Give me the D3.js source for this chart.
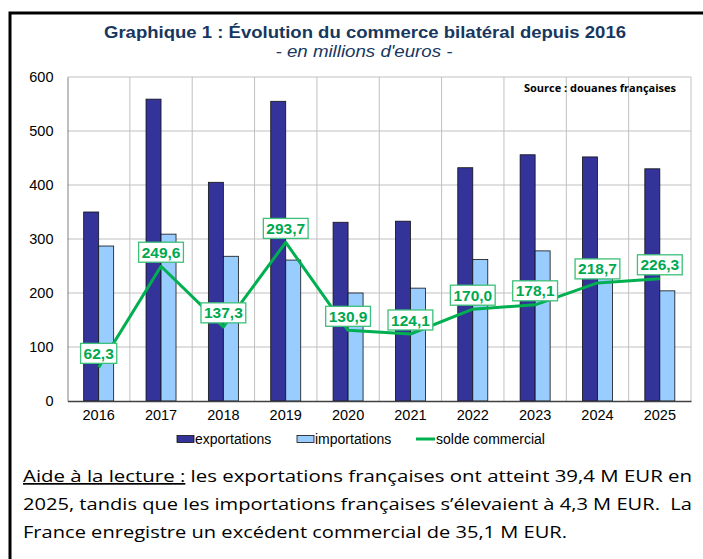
<!DOCTYPE html>
<html>
<head>
<meta charset="utf-8">
<script src="https://cdn.jsdelivr.net/npm/d3@7"></script>
<style>
  body { margin: 0; background: #fff; }
  svg { display: block; font-family: "Liberation Sans", Arial, sans-serif; }
</style>
</head>
<body>
<svg id="chart"></svg>
<script>
'use strict';

var years = ["2016", "2017", "2018", "2019", "2020", "2021", "2022", "2023", "2024", "2025"];
var exportations = [350, 559, 405, 555, 331, 333, 432, 456, 452, 430];
var importations = [287, 309, 268, 261, 200, 209, 262, 278, 233, 204];
var solde = [62.3, 249.6, 137.3, 293.7, 130.9, 124.1, 170.0, 178.1, 218.7, 226.3];
var yTicks = [0, 100, 200, 300, 400, 500, 600];

var width = 703,
    height = 559;

var margin = { left: 67.5, right: 691, top: 77, bottom: 401 };

var svg = d3.select("#chart")
    .attr("width", width)
    .attr("height", height);

// cadre noir
svg.append("rect")
    .attr("x", 10).attr("y", 13)
    .attr("width", 760).attr("height", 620)
    .attr("fill", "none")
    .attr("stroke", "#000")
    .attr("stroke-width", 3);

var x = d3.scaleBand()
    .domain(years)
    .range([margin.left, margin.right])
    .padding(0);

var y = d3.scaleLinear()
    .domain([0, 600])
    .range([margin.bottom, margin.top]);

var bw = 15;

// titre
svg.append("text")
    .attr("x", 365).attr("y", 38)
    .attr("text-anchor", "middle")
    .attr("font-size", "17px")
    .attr("font-weight", "bold")
    .attr("fill", "#17375e")
    .attr("textLength", 522)
    .attr("lengthAdjust", "spacingAndGlyphs")
    .text("Graphique 1 : \u00c9volution du commerce bilat\u00e9ral depuis 2016");

svg.append("text")
    .attr("x", 364).attr("y", 57)
    .attr("text-anchor", "middle")
    .attr("font-size", "17px")
    .attr("font-style", "italic")
    .attr("fill", "#17375e")
    .attr("textLength", 177)
    .attr("lengthAdjust", "spacingAndGlyphs")
    .text("- en millions d'euros -");

// grille
var grid = svg.append("g");
grid.selectAll(".hgrid")
    .data(yTicks.slice(1))
  .enter().append("line")
    .attr("x1", margin.left).attr("x2", margin.right)
    .attr("y1", function(d) { return y(d); })
    .attr("y2", function(d) { return y(d); })
    .attr("stroke", "#c0c0c0");

grid.selectAll(".vgrid")
    .data(years.slice(1).concat(["end"]))
  .enter().append("line")
    .attr("x1", function(d) { return d === "end" ? margin.right : x(d); })
    .attr("x2", function(d) { return d === "end" ? margin.right : x(d); })
    .attr("y1", margin.top).attr("y2", margin.bottom)
    .attr("stroke", "#c0c0c0");

// barres
var bars = svg.append("g");
bars.selectAll(".exp")
    .data(exportations)
  .enter().append("rect")
    .attr("x", function(d, i) { return x(years[i]) + x.bandwidth() / 2 - bw; })
    .attr("y", function(d) { return y(d); })
    .attr("width", bw)
    .attr("height", function(d) { return y(0) - y(d); })
    .attr("fill", "#333399")
    .attr("stroke", "#111")
    .attr("stroke-width", 0.8);

bars.selectAll(".imp")
    .data(importations)
  .enter().append("rect")
    .attr("x", function(d, i) { return x(years[i]) + x.bandwidth() / 2; })
    .attr("y", function(d) { return y(d); })
    .attr("width", bw)
    .attr("height", function(d) { return y(0) - y(d); })
    .attr("fill", "#99ccff")
    .attr("stroke", "#111")
    .attr("stroke-width", 0.8);

// axes
var yAxis = svg.append("g")
    .attr("transform", "translate(" + margin.left + ",0)")
    .call(d3.axisLeft(y).tickValues(yTicks).tickSize(0).tickPadding(14));
yAxis.attr("font-family", null);
yAxis.select(".domain").attr("stroke", "#808080");
yAxis.selectAll("text").attr("font-size", "14.5px").attr("fill", "#000");

var xAxis = svg.append("g")
    .attr("transform", "translate(0," + margin.bottom + ")")
    .call(d3.axisBottom(x).tickSize(0).tickPadding(9));
xAxis.attr("font-family", null);
xAxis.select(".domain").attr("stroke", "#404040").attr("stroke-width", 1.5);
xAxis.selectAll("text").attr("font-size", "14.5px").attr("fill", "#000");

// solde commercial
var line = d3.line()
    .x(function(d, i) { return x(years[i]) + x.bandwidth() / 2; })
    .y(function(d) { return y(d); });

svg.append("path")
    .datum(solde)
    .attr("d", line)
    .attr("fill", "none")
    .attr("stroke", "#00b050")
    .attr("stroke-width", 3)
    .attr("stroke-linejoin", "round");

var fmt = function(v) { return d3.format(".1f")(v).replace(".", ","); };

var labels = svg.selectAll(".lbl")
    .data(solde)
  .enter().append("g")
    .attr("transform", function(d, i) {
      return "translate(" + (x(years[i]) + x.bandwidth() / 2) + "," + (y(d) - 14) + ")";
    });

labels.append("rect")
    .attr("fill", "#fff")
    .attr("stroke", "#3cc07a")
    .attr("stroke-width", 1.3);

labels.append("text")
    .attr("text-anchor", "middle")
    .attr("dy", "0.36em")
    .attr("font-size", "15.5px")
    .attr("font-weight", "bold")
    .attr("fill", "#00a850")
    .text(function(d) { return fmt(d); });

labels.each(function() {
  var g = d3.select(this);
  var w = g.select("text").node().getComputedTextLength();
  g.select("rect")
    .attr("x", -w / 2 - 3).attr("y", -10)
    .attr("width", w + 6).attr("height", 20);
});

// source
svg.append("text")
    .attr("x", 676).attr("y", 92)
    .attr("text-anchor", "end")
    .attr("font-size", "11px")
    .attr("font-weight", "bold")
    .attr("font-family", "Open Sans, sans-serif")
    .attr("textLength", 152)
    .attr("lengthAdjust", "spacingAndGlyphs")
    .text("Source : douanes fran\u00e7aises");

// legende
var legend = svg.append("g").attr("font-size", "14px");
legend.append("rect")
    .attr("x", 177).attr("y", 435.5).attr("width", 17).attr("height", 7)
    .attr("fill", "#333399").attr("stroke", "#111").attr("stroke-width", 0.8);
legend.append("text").attr("x", 195).attr("y", 444).text("exportations");
legend.append("rect")
    .attr("x", 297).attr("y", 435.5).attr("width", 17).attr("height", 7)
    .attr("fill", "#99ccff").attr("stroke", "#111").attr("stroke-width", 0.8);
legend.append("text").attr("x", 315).attr("y", 444).text("importations");
legend.append("line")
    .attr("x1", 416).attr("x2", 435).attr("y1", 439).attr("y2", 439)
    .attr("stroke", "#00b050").attr("stroke-width", 3);
legend.append("text").attr("x", 436).attr("y", 444).text("solde commercial");

// aide a la lecture
var note = svg.append("g")
    .attr("font-size", "17px")
    .attr("font-family", "Open Sans, sans-serif")
    .attr("fill", "#000");

var l1 = note.append("text")
    .attr("x", 23).attr("y", 482)
    .attr("textLength", 669)
    .attr("lengthAdjust", "spacingAndGlyphs");
l1.append("tspan")
    .style("text-decoration", "underline")
    .text("Aide \u00e0 la lecture :");
l1.append("tspan")
    .text(" les exportations fran\u00e7aises ont atteint 39,4 M EUR en");

note.append("text")
    .attr("x", 23).attr("y", 510)
    .attr("textLength", 669)
    .attr("lengthAdjust", "spacingAndGlyphs")
    .text("2025, tandis que les importations fran\u00e7aises s\u2019\u00e9levaient \u00e0 4,3 M EUR.\u00a0 La");

note.append("text")
    .attr("x", 23).attr("y", 538)
    .attr("textLength", 544)
    .attr("lengthAdjust", "spacingAndGlyphs")
    .text("France enregistre un exc\u00e9dent commercial de 35,1 M EUR.");
</script>
</body>
</html>
